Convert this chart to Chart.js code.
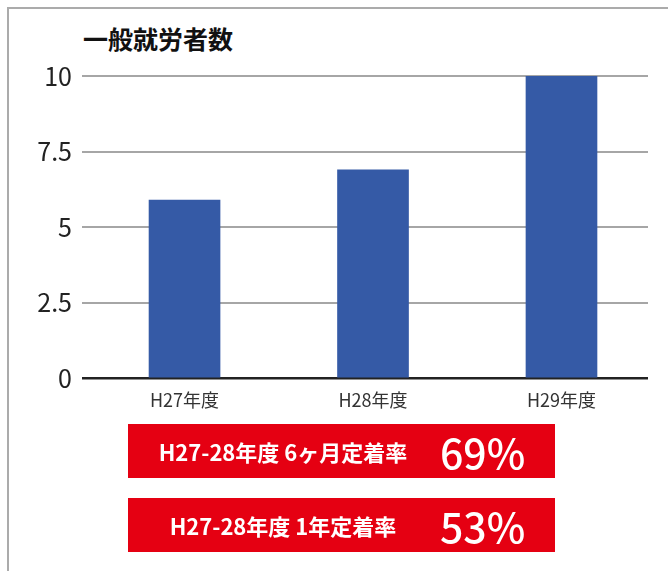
<!DOCTYPE html>
<html lang="ja">
<head>
<meta charset="utf-8">
<script src="https://cdn.jsdelivr.net/npm/chart.js@4"></script>
<style>
  html, body { margin: 0; padding: 0; background: #fff; }
  body { width: 668px; height: 571px; position: relative; overflow: hidden;
         font-family: "Noto Sans CJK JP", "Noto Sans", sans-serif; }
  .frame { position: absolute; left: 7px; top: 7px; width: 700px; height: 600px;
           border-top: 2px solid #ababab; border-left: 2px solid #ababab; }
  .title { position: absolute; left: 83px; top: 26px; font-size: 25px; line-height: 25px;
           font-weight: 700; color: #111; }
  .wrap { position: absolute; left: 0; top: 0; width: 668px; height: 440px; }
  .box { position: absolute; left: 128px; width: 427px; height: 54px; background: #e50012;
         color: #fff; display: flex; align-items: center; }
  .box .lbl { width: 310px; text-align: center; font-size: 22px; font-weight: 700; }
  .box .pct { margin-left: 2px; font-size: 41px; font-weight: 500; line-height: 1; }
</style>
</head>
<body>
<div class="frame"></div>
<div class="title">一般就労者数</div>
<div class="wrap"><canvas id="c"></canvas></div>
<div class="box" style="top:424px"><span class="lbl">H27-28年度 6ヶ月定着率</span><span class="pct">69%</span></div>
<div class="box" style="top:498px"><span class="lbl">H27-28年度 1年定着率</span><span class="pct">53%</span></div>
<script>
// データ
const categories = ['H27年度', 'H28年度', 'H29年度'];
const workers = [5.9, 6.9, 10];
const yTicks = [0, 2.5, 5, 7.5, 10];

const ctx = document.getElementById('c').getContext('2d');
new Chart(ctx, {
    type: 'bar',
    data: {
        datasets: [{
            data: workers.map(function(v, i) { return { x: i, y: v }; }),
            backgroundColor: '#355aa6',
            barThickness: 71
        }]
    },
    options: {
        responsive: true,
        maintainAspectRatio: false,
        animation: false,
        layout: { padding: { top: 76, right: 20, bottom: 26, left: 0 } },
        plugins: {
            legend: { display: false },
            tooltip: { enabled: false }
        },
        scales: {
            x: {
                type: 'linear',
                offset: false,
                min: -0.544,
                max: 2.459,
                grid: { display: false, offset: false },
                border: { display: false },
                afterBuildTicks: function(s) {
                    s.ticks = categories.map(function(c, i) { return { value: i }; });
                },
                ticks: {
                    autoSkip: false,
                    maxRotation: 0,
                    padding: 3,
                    color: '#333',
                    font: { family: '"Noto Sans CJK JP"', size: 18 },
                    callback: function(v) { return categories[v]; }
                }
            },
            y: {
                min: 0,
                max: 10,
                afterFit: function(s) { s.width = 82; },
                afterBuildTicks: function(s) {
                    s.ticks = yTicks.map(function(v) { return { value: v }; });
                },
                border: { display: false },
                grid: {
                    drawTicks: false,
                    color: function(c) { return c.tick.value === 0 ? '#222' : '#a6a6a6'; },
                    lineWidth: function(c) { return c.tick.value === 0 ? 2.5 : 2; }
                },
                ticks: {
                    padding: 10,
                    color: '#222',
                    font: { family: '"Noto Sans CJK JP"', size: 25 }
                }
            }
        }
    }
});
</script>
</body>
</html>
